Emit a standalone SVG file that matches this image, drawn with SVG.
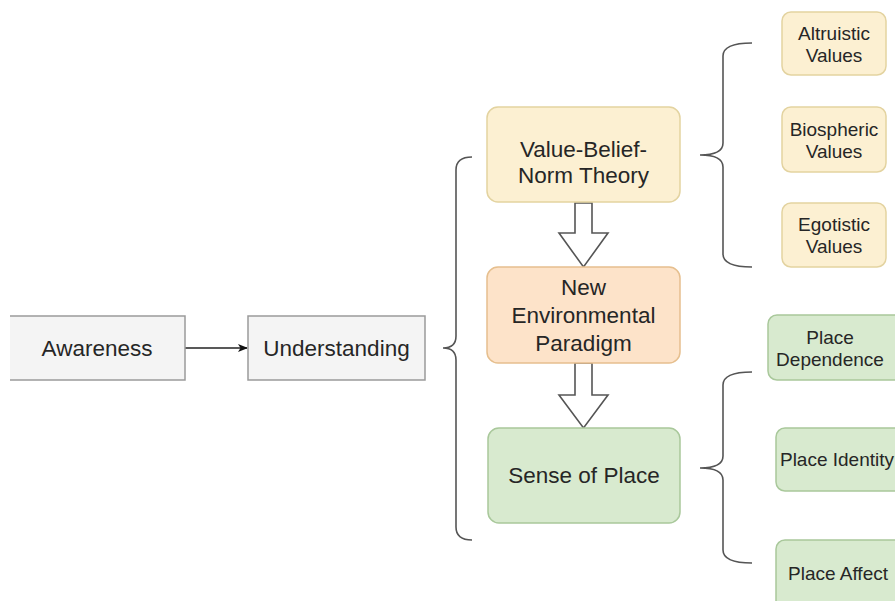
<svg xmlns="http://www.w3.org/2000/svg" width="895" height="601" viewBox="0 0 895 601">
<style>
text{font-family:"Liberation Sans",Arial,sans-serif;fill:#262626;text-anchor:middle}
.big{font-size:22.5px}
.sm{font-size:19px}
.gray{fill:#f4f4f4;stroke:#9a9a9a;stroke-width:1.5}
.yel{fill:#fcf0d2;stroke:#e3d3a0;stroke-width:1.5}
.org{fill:#fde3c9;stroke:#e6bf8e;stroke-width:1.5}
.grn{fill:#d8eacf;stroke:#a9c89b;stroke-width:1.5}
.brace{fill:none;stroke:#555;stroke-width:1.6}
.hollow{fill:#fff;stroke:#555;stroke-width:1.6;stroke-linejoin:miter}
</style>
<defs>
<marker id="ah" markerWidth="10" markerHeight="10" refX="9" refY="5" orient="auto" markerUnits="userSpaceOnUse">
<path d="M0,1 L10,5 L0,9 L2.5,5 Z" fill="#111"/>
</marker>
</defs>
<rect width="895" height="601" fill="#fff"/>

<g id="connectors">
<line x1="185" y1="348" x2="247" y2="348" stroke="#222" stroke-width="1.6" marker-end="url(#ah)"/>
<path class="hollow" d="M575,203 L592,203 L592,233 L608,233 L583.5,267 L559,233 L575,233 Z"/>
<path class="hollow" d="M575,363 L592,363 L592,395 L608,395 L583.5,428 L559,395 L575,395 Z"/>
<path class="brace" d="M472,157 Q456,157 456,170 L456,336 Q456,348 443,348 Q456,348 456,360 L456,527 Q456,540 472,540"/>
<path class="brace" d="M752,43 Q723,43 723,56 L723,143 Q723,155 700,155 Q723,155 723,167 L723,254 Q723,267 752,267"/>
<path class="brace" d="M752,372 Q723,372 723,385 L723,456 Q723,468 700,468 Q723,468 723,480 L723,550 Q723,563 752,563"/>
</g>

<g id="awareness">
<rect x="10" y="316" width="175" height="64" fill="#f4f4f4"/>
<path d="M10,316 H185 V380 H10" fill="none" stroke="#9a9a9a" stroke-width="1.5"/>
<text class="big" x="97" y="356">Awareness</text>
</g>
<g id="understanding">
<rect class="gray" x="248" y="316" width="177" height="64"/>
<text class="big" x="336.5" y="356">Understanding</text>
</g>

<g id="vbn">
<rect class="yel" x="487" y="107" width="193" height="95" rx="11"/>
<text class="big" x="583.5" y="157">Value-Belief-</text>
<text class="big" x="583.5" y="183">Norm Theory</text>
</g>
<g id="nep">
<rect class="org" x="487" y="267" width="193" height="96" rx="11"/>
<text class="big" x="583.5" y="295">New</text>
<text class="big" x="583.5" y="323">Environmental</text>
<text class="big" x="583.5" y="351">Paradigm</text>
</g>
<g id="sense">
<rect class="grn" x="488" y="428" width="192" height="95" rx="11"/>
<text class="big" x="584" y="483">Sense of Place</text>
</g>

<g id="altruistic">
<rect class="yel" x="782" y="12" width="104" height="63" rx="9"/>
<text class="sm" x="834" y="40">Altruistic</text>
<text class="sm" x="834" y="62">Values</text>
</g>
<g id="biospheric">
<rect class="yel" x="782" y="107" width="104" height="65" rx="9"/>
<text class="sm" x="834" y="136">Biospheric</text>
<text class="sm" x="834" y="158">Values</text>
</g>
<g id="egotistic">
<rect class="yel" x="782" y="203" width="104" height="64" rx="9"/>
<text class="sm" x="834" y="231">Egotistic</text>
<text class="sm" x="834" y="253">Values</text>
</g>

<g id="place-dependence">
<rect class="grn" x="768" y="315" width="135" height="65" rx="9"/>
<text class="sm" x="830" y="344">Place</text>
<text class="sm" x="830" y="366">Dependence</text>
</g>
<g id="place-identity">
<rect class="grn" x="776" y="428" width="130" height="63" rx="9"/>
<text class="sm" x="837" y="466">Place Identity</text>
</g>
<g id="place-affect">
<rect class="grn" x="776" y="540" width="130" height="70" rx="9"/>
<text class="sm" x="838" y="580">Place Affect</text>
</g>
</svg>
